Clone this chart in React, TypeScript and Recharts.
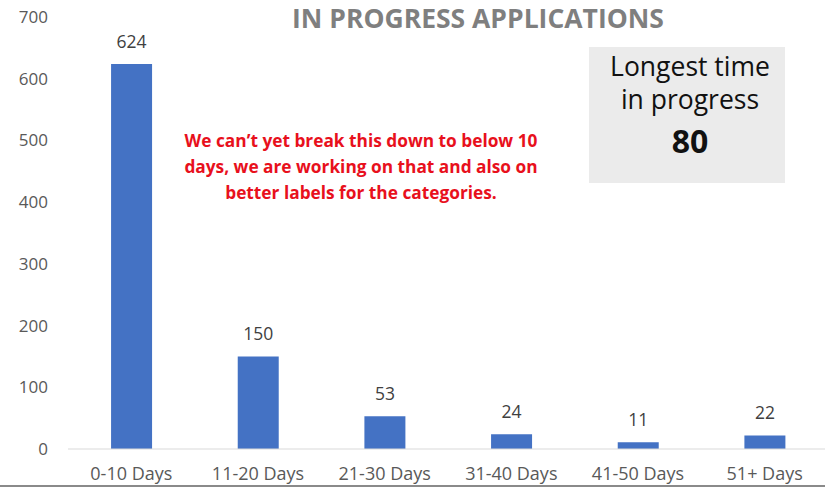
import React from "react";
import { BarChart, Bar, XAxis, YAxis, LabelList } from "recharts";

// categories and counts
const categories = ["0-10 Days", "11-20 Days", "21-30 Days", "31-40 Days", "41-50 Days", "51+ Days"];
const counts = [624, 150, 53, 24, 11, 22];
const yTicks = [0, 100, 200, 300, 400, 500, 600, 700];

const title = "IN PROGRESS APPLICATIONS";
const noteLines = [
  "We can\u2019t yet break this down to below 10",
  "days, we are working on that and also on",
  "better labels for the categories.",
];
const boxLines = ["Longest time", "in progress"];
const longest = 80;

const data = categories.map((name, i) => ({ name, count: counts[i] }));

const font = "'Open Sans', Lato, sans-serif";

const App = () => {
  return (
    <div
      style={{
        position: "fixed",
        left: 0,
        top: 0,
        width: 825,
        height: 487,
        background: "#fff",
        fontFamily: font,
        overflow: "hidden",
      }}
    >
      <BarChart
        width={825}
        height={487}
        data={data}
        margin={{ top: 17, right: -3, bottom: 0, left: 0 }}
        barCategoryGap="34%"
      >
        <XAxis
          dataKey="name"
          height={38}
          tickLine={false}
          tickSize={0}
          tickMargin={18}
          axisLine={{ stroke: "#d9d9d9" }}
          tick={{ fill: "#595959", fontSize: 18, fontFamily: font }}
          interval={0}
        />
        <YAxis
          width={68}
          domain={[0, 700]}
          ticks={yTicks}
          axisLine={false}
          tickLine={false}
          tickSize={0}
          tickMargin={20}
          tick={{ fill: "#595959", fontSize: 17, fontFamily: font }}
        />
        <Bar dataKey="count" fill="#4472c4" isAnimationActive={false}>
          <LabelList
            dataKey="count"
            position="top"
            offset={16}
            style={{ fill: "#404040", fontSize: 17.5, fontFamily: font }}
          />
        </Bar>
      </BarChart>

      <div
        style={{
          position: "absolute",
          left: 228,
          width: 500,
          top: 1,
          textAlign: "center",
          fontSize: 26.5,
          fontWeight: 700,
          color: "#7f7f7f",
          lineHeight: "34px",
        }}
      >
        {title}
      </div>

      <div
        style={{
          position: "absolute",
          left: 111,
          width: 500,
          top: 128,
          textAlign: "center",
          fontSize: 17.3,
          fontWeight: 700,
          color: "#e8101c",
          lineHeight: "26px",
        }}
      >
        {noteLines.map((l) => (
          <div key={l}>{l}</div>
        ))}
      </div>

      <div
        style={{
          position: "absolute",
          left: 589,
          top: 47,
          width: 196,
          height: 136,
          paddingLeft: 6,
          boxSizing: "border-box",
          background: "#ebebeb",
          textAlign: "center",
          color: "#111",
        }}
      >
        <div style={{ fontSize: 26.5, lineHeight: "33px", marginTop: 3 }}>
          {boxLines.map((l) => (
            <div key={l}>{l}</div>
          ))}
        </div>
        <div style={{ fontSize: 32, fontWeight: 700, lineHeight: "44px", marginTop: 3 }}>{longest}</div>
      </div>

      <div
        style={{
          position: "absolute",
          left: 0,
          top: 485,
          width: 825,
          height: 2,
          background: "#8a8a8a",
        }}
      />
    </div>
  );
};

export default App;
